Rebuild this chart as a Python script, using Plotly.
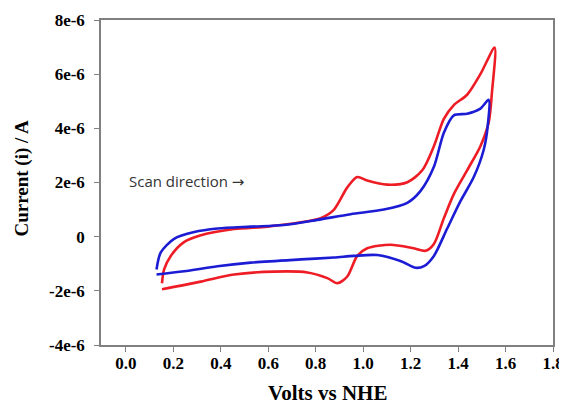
import plotly.graph_objects as go

# Red CV (forward then reverse), volts vs NHE and current in microamps
red_v = [0.152, 0.161, 0.189, 0.245, 0.316, 0.456, 0.596, 0.737, 0.821, 0.877, 0.933, 0.975, 1.017, 1.101,
         1.186, 1.249, 1.298, 1.34, 1.382, 1.438, 1.494, 1.554,
         1.543, 1.529, 1.494, 1.438, 1.382, 1.34, 1.298, 1.263, 1.213, 1.115, 1.017, 0.975, 0.933, 0.891,
         0.849, 0.765, 0.624, 0.456, 0.316, 0.152]
red_i = [-1.72, -1.21, -0.71, -0.20, 0.05, 0.28, 0.37, 0.53, 0.68, 1.00, 1.82, 2.20, 2.07, 1.92,
         2.01, 2.45, 3.34, 4.35, 4.86, 5.24, 6.00, 6.98,
         5.36, 4.22, 3.34, 2.45, 1.57, 0.68, -0.27, -0.52, -0.43, -0.30, -0.43, -0.71, -1.47, -1.72,
         -1.53, -1.32, -1.29, -1.40, -1.66, -1.94]

# Blue CV
blue_v = [0.129, 0.147, 0.203, 0.288, 0.386, 0.526, 0.666, 0.807, 0.947, 1.087, 1.186, 1.242, 1.298,
          1.34, 1.382, 1.438, 1.494, 1.529,
          1.525, 1.508, 1.466, 1.41, 1.354, 1.298, 1.256, 1.221, 1.157, 1.059, 0.961, 0.877, 0.737,
          0.526, 0.386, 0.245, 0.129]
blue_i = [-1.21, -0.58, -0.08, 0.17, 0.30, 0.37, 0.43, 0.62, 0.83, 1.00, 1.25, 1.69, 2.58,
          3.84, 4.48, 4.54, 4.73, 5.05,
          4.10, 3.21, 2.20, 1.31, 0.30, -0.71, -1.09, -1.15, -0.90, -0.68, -0.71, -0.77, -0.84,
          -0.96, -1.09, -1.28, -1.40]

x_ticks = [0.0, 0.2, 0.4, 0.6, 0.8, 1.0, 1.2, 1.4, 1.6, 1.8]
x_tick_labels = ["0.0", "0.2", "0.4", "0.6", "0.8", "1.0", "1.2", "1.4", "1.6", "1.8"]
y_ticks = [-4e-6, -2e-6, 0, 2e-6, 4e-6, 6e-6, 8e-6]
y_tick_labels = ["-4e-6", "-2e-6", "0", "2e-6", "4e-6", "6e-6", "8e-6"]

fig = go.Figure()
fig.add_trace(go.Scatter(x=red_v, y=[v * 1e-6 for v in red_i], mode="lines",
                         line=dict(color="#ee1c24", width=2.6, shape="spline", smoothing=0.8),
                         showlegend=False, hoverinfo="skip"))
fig.add_trace(go.Scatter(x=blue_v, y=[v * 1e-6 for v in blue_i], mode="lines",
                         line=dict(color="#1c1cd4", width=2.6, shape="spline", smoothing=0.8),
                         showlegend=False, hoverinfo="skip"))

serif = "Liberation Serif, Times New Roman, serif"
tickfont = dict(family=serif, size=17, color="black", weight="bold")
common = dict(ticks="outside", ticklen=5, tickcolor="#808080", tickwidth=1.2,
              showline=True, linecolor="#808080", linewidth=1.5, mirror=True,
              showgrid=False, zeroline=False, automargin=False, tickfont=tickfont)

fig.update_layout(
    width=559, height=399,
    margin=dict(l=93, r=14, t=12, b=62),
    paper_bgcolor="white", plot_bgcolor="white",
    font=dict(family=serif, color="black"),
    xaxis=dict(range=[-0.105, 1.8], tickvals=x_ticks, ticktext=x_tick_labels,
               ticklabelstandoff=-3, **common),
    yaxis=dict(range=[-4e-6, 8e-6], tickvals=y_ticks, ticktext=y_tick_labels,
               ticklabelstandoff=6, **common),
    annotations=[
        dict(x=0.003, y=2.04e-6, xref="x", yref="y", xanchor="left", yanchor="middle",
             text="Scan direction <span style=\"font-family:'DejaVu Sans'\">\u2192</span>",
             showarrow=False,
             font=dict(family="Open Sans, Noto Sans, sans-serif", size=15, color="#333333")),
        dict(x=0.5, y=-0.148, xref="paper", yref="paper", xanchor="center", yanchor="middle",
             text="<b>Volts vs NHE</b>", showarrow=False,
             font=dict(family=serif, size=21, color="black")),
        dict(x=-0.175, y=0.515, xref="paper", yref="paper", xanchor="center", yanchor="middle",
             text="<b>Current (i) / A</b>", showarrow=False, textangle=-90,
             font=dict(family=serif, size=19, color="black")),
    ],
)

fig.write_html("out.html")
